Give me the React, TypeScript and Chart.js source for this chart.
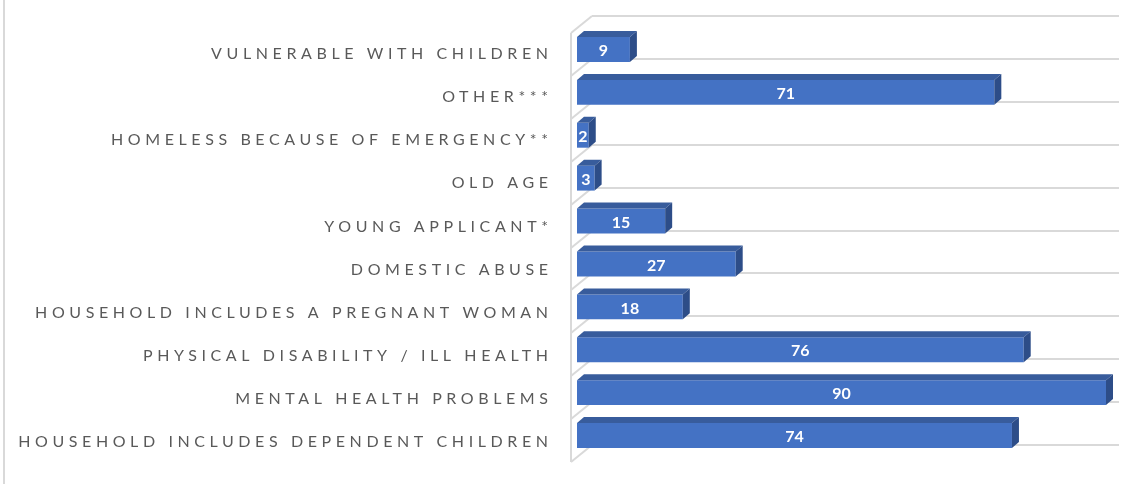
import React, { useEffect, useRef } from "react";
import { Chart, registerables } from "chart.js";

Chart.register(...registerables);

const categories: string[] = [
  "VULNERABLE WITH CHILDREN",
  "OTHER***",
  "HOMELESS BECAUSE OF EMERGENCY**",
  "OLD AGE",
  "YOUNG APPLICANT*",
  "DOMESTIC ABUSE",
  "HOUSEHOLD INCLUDES A PREGNANT WOMAN",
  "PHYSICAL DISABILITY / ILL HEALTH",
  "MENTAL HEALTH PROBLEMS",
  "HOUSEHOLD INCLUDES DEPENDENT CHILDREN",
];

const values: number[] = [9, 71, 2, 3, 15, 27, 18, 76, 90, 74];

const xMin = 0;
const xMax = 90;

const FRONT = "#4472C4";
const TOP = "#385C9C";
const SIDE = "#2D4D88";
const GRID = "#d9d9d9";
const LABEL = "#595959";

// 3D offsets (pixels)
const DEPTH_X = 7;
const DEPTH_Y = -6;
const BACK_DX = 15;
const BACK_DY = -12;
const FRONT_DX = -6;
const FRONT_DY = 5;
const LETTER_SPACING = 4.6;
const LABEL_RIGHT = 548;

const threeD = {
  id: "threeD",
  beforeDatasetsDraw(chart: any) {
    const { ctx, scales } = chart;
    const x = scales.x;
    const y = scales.y;
    const n = categories.length;
    ctx.save();
    ctx.strokeStyle = GRID;
    ctx.lineWidth = 2;
    // outer chart border (left edge)
    ctx.beginPath();
    ctx.moveTo(4, 0);
    ctx.lineTo(4, chart.height);
    ctx.stroke();

    const backL = x.left + BACK_DX;
    const backR = x.right + 13;
    const frontL = x.left + FRONT_DX;
    for (let k = 0; k <= n; k++) {
      const yb = Math.round(y.getPixelForValue(k - 0.5) + BACK_DY);
      ctx.beginPath();
      ctx.moveTo(backL, yb);
      ctx.lineTo(backR, yb);
      ctx.stroke();
      ctx.beginPath();
      ctx.moveTo(frontL, yb + (FRONT_DY - BACK_DY));
      ctx.lineTo(backL, yb);
      ctx.stroke();
    }
    ctx.beginPath();
    ctx.moveTo(frontL, Math.round(y.getPixelForValue(-0.5)) + FRONT_DY);
    ctx.lineTo(frontL, Math.round(y.getPixelForValue(n - 0.5)) + FRONT_DY);
    ctx.stroke();
    ctx.restore();
  },
  afterDatasetsDraw(chart: any) {
    const { ctx, scales } = chart;
    const y = scales.y;
    const meta = chart.getDatasetMeta(0);
    ctx.save();
    meta.data.forEach((bar: any, i: number) => {
      const x0 = bar.base;
      const x1 = bar.x;
      const top = bar.y - bar.height / 2;
      const bottom = bar.y + bar.height / 2;
      // top face
      ctx.fillStyle = TOP;
      ctx.beginPath();
      ctx.moveTo(x0, top);
      ctx.lineTo(x0 + DEPTH_X, top + DEPTH_Y);
      ctx.lineTo(x1 + DEPTH_X, top + DEPTH_Y);
      ctx.lineTo(x1, top);
      ctx.closePath();
      ctx.fill();
      // side face
      ctx.fillStyle = SIDE;
      ctx.beginPath();
      ctx.moveTo(x1, top);
      ctx.lineTo(x1 + DEPTH_X, top + DEPTH_Y);
      ctx.lineTo(x1 + DEPTH_X, bottom + DEPTH_Y);
      ctx.lineTo(x1, bottom);
      ctx.closePath();
      ctx.fill();
      // value label
      ctx.fillStyle = "#ffffff";
      ctx.font = "bold 16px Lato";
      ctx.textAlign = "center";
      ctx.textBaseline = "middle";
      ctx.fillText(String(values[i]), (x0 + x1) / 2, bar.y + 1.5);
    });

    // category labels
    ctx.fillStyle = LABEL;
    ctx.font = "16px Lato";
    ctx.textAlign = "right";
    ctx.textBaseline = "middle";
    (ctx as any).letterSpacing = LETTER_SPACING + "px";
    categories.forEach((c, i) => {
      const yy = y.getPixelForValue(i) + 4.5 + i * 0.2;
      ctx.fillText(c, LABEL_RIGHT + LETTER_SPACING, yy);
    });
    (ctx as any).letterSpacing = "0px";
    ctx.restore();
  },
};

export default function App() {
  const ref = useRef<HTMLCanvasElement | null>(null);
  useEffect(() => {
    document.body.style.margin = "0";
    const canvas = ref.current;
    if (!canvas) return;
    const chart = new Chart(canvas, {
      type: "bar",
      data: {
        labels: categories,
        datasets: [
          {
            data: values,
            backgroundColor: FRONT,
            borderWidth: 0,
            barPercentage: 0.58,
            categoryPercentage: 1,
          },
        ],
      },
      options: {
        indexAxis: "y",
        responsive: false,
        animation: false,
        devicePixelRatio: 1,
        layout: { padding: { left: 577, right: 38, top: 28, bottom: 27 } },
        plugins: {
          legend: { display: false },
          tooltip: { enabled: false },
        },
        scales: {
          x: { display: false, min: xMin, max: xMax },
          y: { display: false },
        },
      },
      plugins: [threeD],
    });
    return () => chart.destroy();
  }, []);
  return (
    <div style={{ width: 1144, height: 484, background: "#fff" }}>
      <canvas ref={ref} width={1144} height={484} style={{ display: "block" }} />
    </div>
  );
}
